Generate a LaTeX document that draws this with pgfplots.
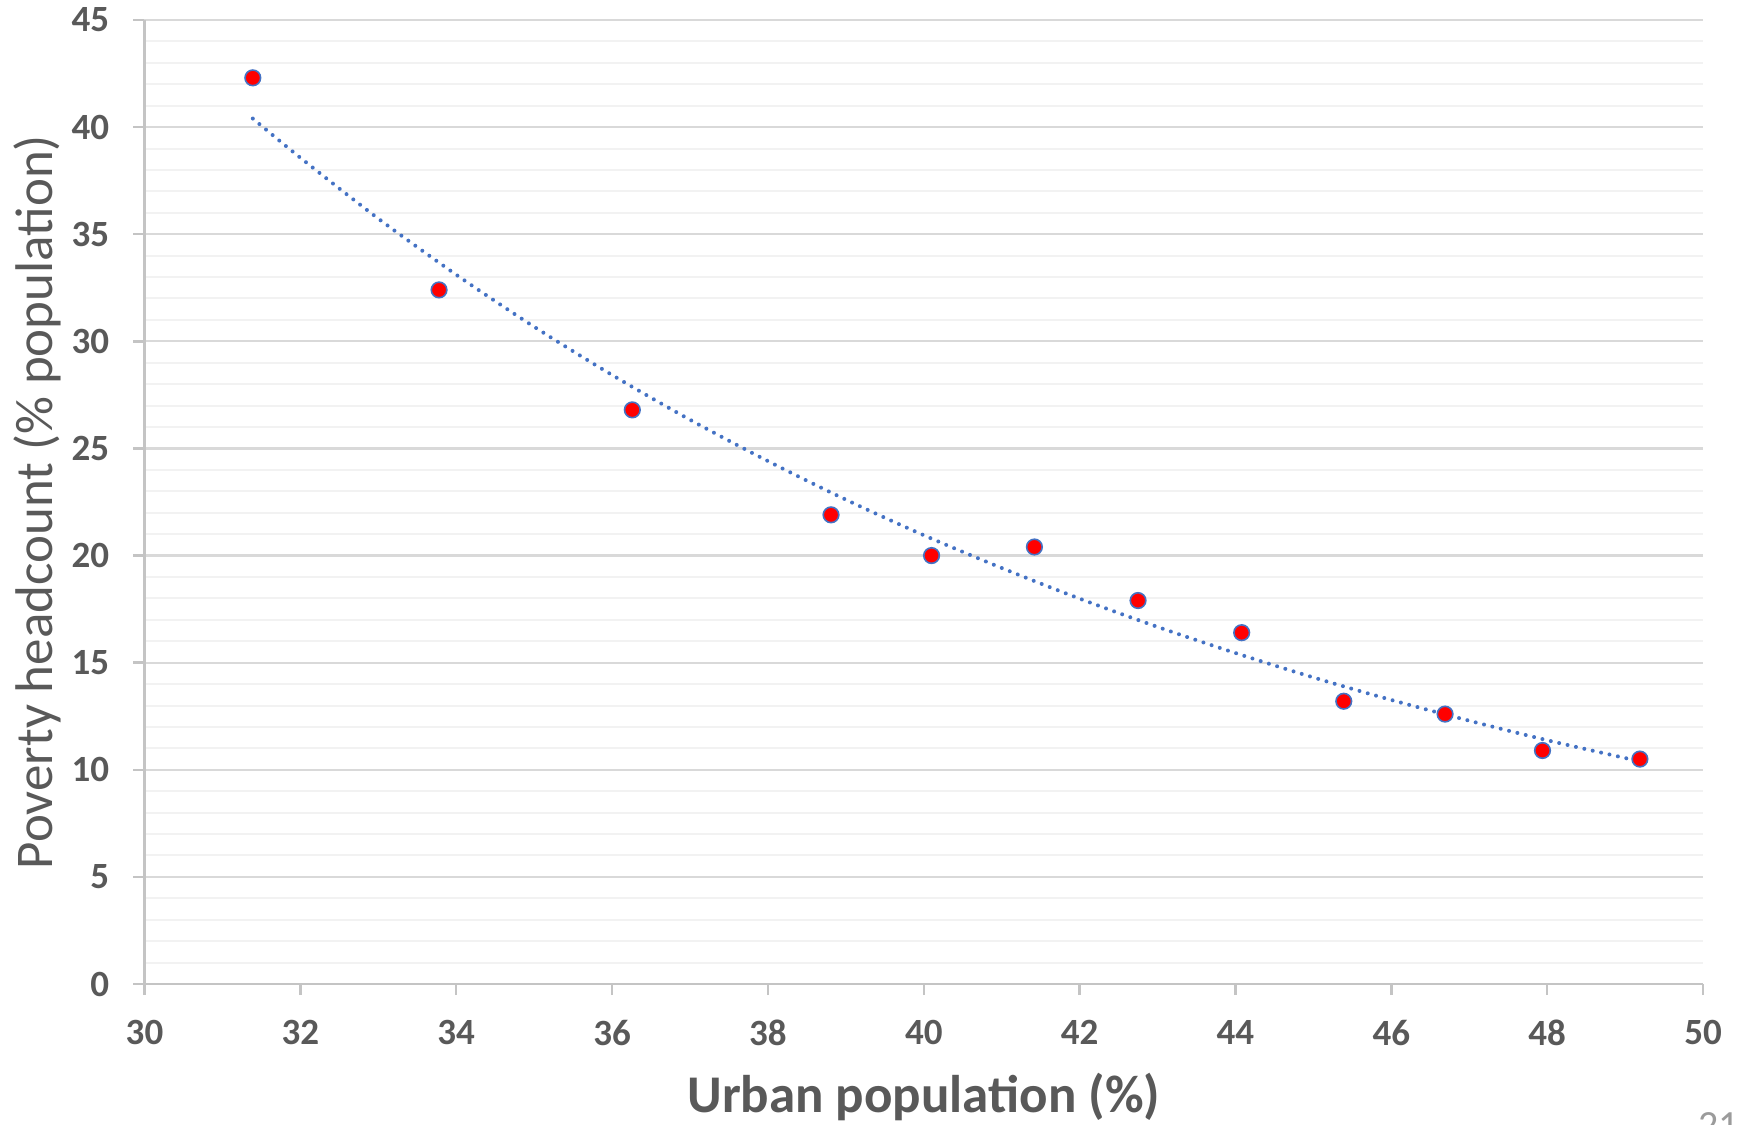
\documentclass[border=0pt]{standalone}
\usepackage{fontspec}
\setmainfont{Carlito}
\usepackage{pgfplots}
\pgfplotsset{compat=1.18}
\definecolor{txt}{HTML}{595959}
\definecolor{majg}{HTML}{D9D9D9}
\definecolor{ming}{HTML}{F2F2F2}
\definecolor{axg}{HTML}{C4C4C4}
\definecolor{mblue}{HTML}{4472C4}
\begin{document}
\begin{tikzpicture}
\path[use as bounding box] (-72.25pt,-70pt) rectangle (796.75pt,492pt);
\begin{axis}[
  at={(0pt,0pt)}, anchor=south west,
  scale only axis, width=779.25pt, height=482pt,
  xmin=30, xmax=50, ymin=0, ymax=45,
  xtick={30,32,...,50}, ytick={0,5,...,45},
  minor y tick num=4,
  ymajorgrids, yminorgrids,
  major grid style={majg, line width=1.1pt},
  minor grid style={ming, line width=1pt},
  axis x line=bottom, axis y line=left,
  axis line style={axg, line width=1.2pt, -},
  tick align=outside, major tick length=5.5pt, minor tick length=0pt,
  tick style={axg, line width=1.2pt},
  /pgf/number format/assume math mode=true,
  tick label style={font=\fontsize{18.5}{21}\selectfont\bfseries, text=txt, inner sep=0pt},
  xticklabel style={yshift=-12.5pt},
  yticklabel style={xshift=-12pt},
  xlabel={Urban population (\%)},
  ylabel={Poverty headcount (\% population)},
  xlabel style={font=\fontsize{26.5}{30}\selectfont\bfseries, text=txt, inner sep=0pt,
    at={(axis description cs:0.5,-0.092)}, anchor=north},
  ylabel style={font=\fontsize{26.5}{30}\selectfont, text=txt, inner sep=0pt,
    at={(axis description cs:-0.0844,0.5)}, anchor=north},
  clip=false,
]
\addplot[mblue, line width=2pt, line cap=round, dash pattern=on 0pt off 4.3pt, smooth]
coordinates {
(31.39,40.40) (32,38.57) (33,35.73) (34,33.11) (35,30.68) (36,28.43) (37,26.34)
(38,24.41) (39,22.61) (40,20.95) (41,19.42) (42,17.99) (43,16.67) (44,15.45)
(45,14.31) (46,13.26) (47,12.29) (48,11.38) (49,10.55) (49.19,10.40)
};
\addplot[only marks, mark=*, mark size=3.9pt, mark options={fill=red, draw=mblue, line width=0.8pt}]
coordinates {
(31.39,42.3) (33.78,32.4) (36.26,26.8) (38.81,21.9) (40.10,20.0) (41.42,20.4)
(42.75,17.9) (44.08,16.4) (45.39,13.2) (46.69,12.6) (47.94,10.9) (49.19,10.5)
};
\end{axis}
\node[anchor=north west, inner sep=0pt, text=txt!60, font=\fontsize{20}{24}\selectfont] at (776.75pt,-64pt) {21};
\end{tikzpicture}
\end{document}
